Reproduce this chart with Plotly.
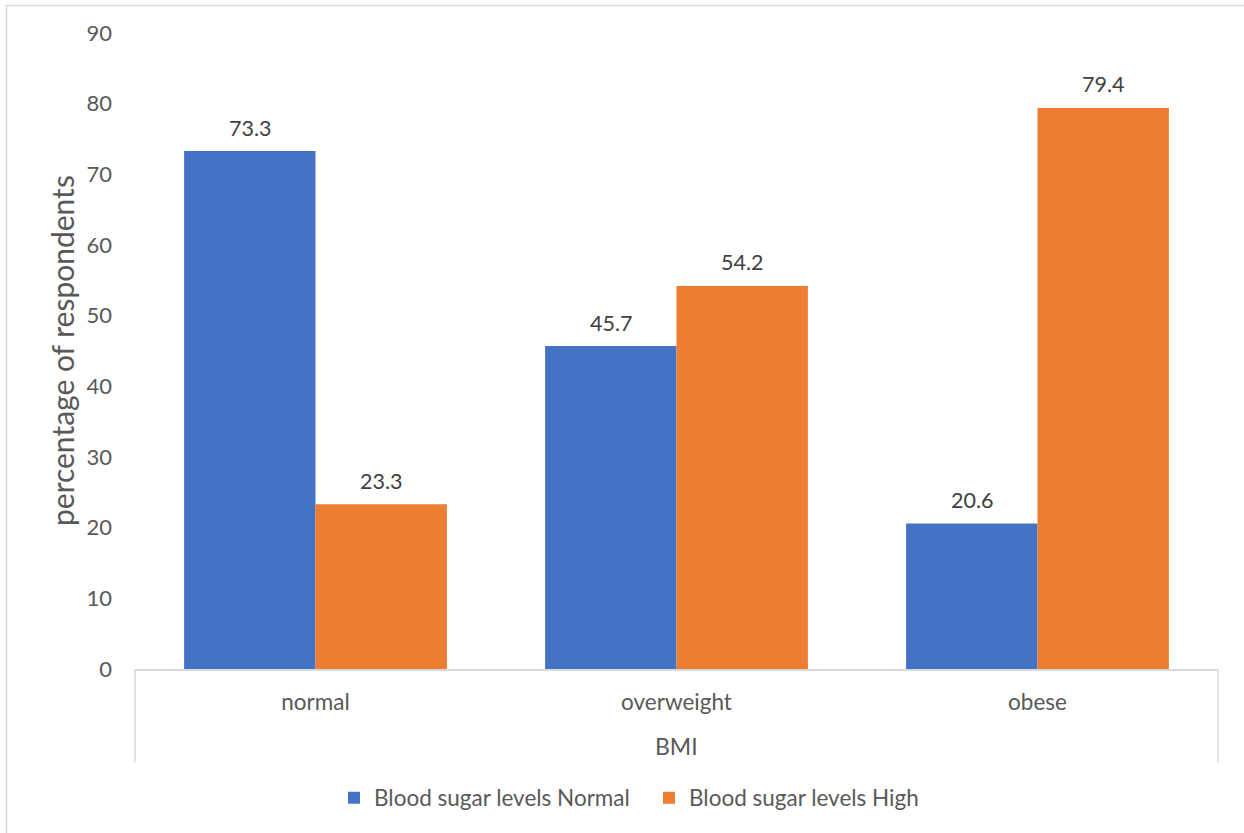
import plotly.graph_objects as go

# BMI groups and share of respondents by blood sugar level
categories = ["normal", "overweight", "obese"]
sugar_normal = [73.3, 45.7, 20.6]
sugar_high = [23.3, 54.2, 79.4]
series_names = ["Blood sugar levels Normal", "Blood sugar levels High"]
y_ticks = [0, 10, 20, 30, 40, 50, 60, 70, 80, 90]

BLUE = "#4472C4"
ORANGE = "#ED7D31"
TEXT = "#595959"
LABEL = "#404040"
LINE = "#D9D9D9"
FONT = "Lato"

W, H = 1244, 833
L, R, T, B = 135, 1218, 33, 669  # plot area in pixels
pw, ph = R - L, B - T

def py(pixel_y):
    """pixel row -> paper y"""
    return (B - pixel_y) / ph

def px(pixel_x):
    return (pixel_x - L) / pw

bargap = 0.272
fig = go.Figure()
fig.add_bar(x=categories, y=sugar_normal, name=series_names[0], marker_color=BLUE,
            marker_line_width=0)
fig.add_bar(x=categories, y=sugar_high, name=series_names[1], marker_color=ORANGE,
            marker_line_width=0)

# value labels above each bar
bar_px = pw / len(categories) * (1 - bargap) / 2
for vals, sign in ((sugar_normal, -1), (sugar_high, 1)):
    for c, v in zip(categories, vals):
        fig.add_annotation(x=c, y=v, xref="x", yref="y", text=f"{v}", showarrow=False,
                           xshift=sign * bar_px / 2, yshift=23.5, yanchor="middle",
                           font=dict(family=FONT, size=21.5, color=LABEL))

# y-axis title
fig.add_annotation(x=px(62), y=py(351), xref="paper", yref="paper",
                   text="percentage of respondents", textangle=-90, showarrow=False,
                   xanchor="center", yanchor="middle",
                   font=dict(family=FONT, size=30, color=TEXT))
# category group label
fig.add_annotation(x=0.5, y=py(746), xref="paper", yref="paper", text="BMI",
                   showarrow=False, xanchor="center", yanchor="middle",
                   font=dict(family=FONT, size=23, color=TEXT))

# category box edges below the axis
for xe in (0, 1):
    fig.add_shape(type="line", xref="paper", yref="paper", x0=xe, x1=xe,
                  y0=0, y1=py(762), line=dict(color=LINE, width=1.5))
# chart outer border (top and left visible)
fig.add_shape(type="rect", xref="paper", yref="paper", x0=px(6.5), x1=px(W + 20),
              y0=py(H + 20), y1=py(5.5), line=dict(color=LINE, width=1.5), layer="below")

fig.update_layout(
    width=W, height=H,
    margin=dict(l=L, r=W - R, t=T, b=H - B, autoexpand=False),
    paper_bgcolor="white", plot_bgcolor="white",
    barmode="group", bargap=bargap, bargroupgap=0,
    font=dict(family=FONT, color=TEXT),
    showlegend=True,
    legend=dict(orientation="h", x=px(334), xanchor="left", y=py(798), yanchor="middle",
                font=dict(family=FONT, size=22.5, color=TEXT), itemwidth=30,
                entrywidth=270, entrywidthmode="pixels",
                bgcolor="rgba(0,0,0,0)", traceorder="normal"),
)
fig.update_xaxes(type="category", showline=True, linecolor=LINE, linewidth=1.5,
                 showgrid=False, zeroline=False, ticks="", ticklabelstandoff=12,
                 tickfont=dict(family=FONT, size=22.5, color=TEXT))
fig.update_yaxes(range=[0, 90], tickvals=y_ticks, showgrid=False, zeroline=False,
                 showline=False, ticks="", ticklabelstandoff=22,
                 tickfont=dict(family=FONT, size=22, color=TEXT))

fig.write_html("out.html")
